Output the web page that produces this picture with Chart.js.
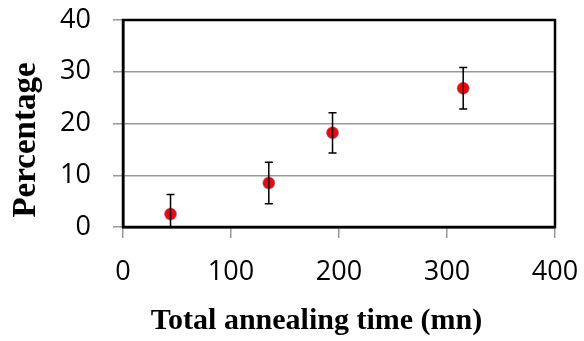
<!DOCTYPE html>
<html lang="en">

<head>
    <meta charset="UTF-8">
    <title>Percentage vs annealing time</title>
    <script src="https://cdn.jsdelivr.net/npm/chart.js@4.4.0/dist/chart.umd.min.js"></script>
    <style>
        html, body { margin: 0; padding: 0; background: #ffffff; }
        #box { width: 584px; height: 341px; }
    </style>
</head>

<body>
    <div id="box"><canvas id="canvas_grafico"></canvas></div>

<script>
    // dados
    var tempos = [44, 135, 194, 315];
    var porcentagens = [2.5, 8.5, 18.2, 26.8];
    var erros = [3.8, 4.0, 3.9, 4.0];
    var ticks_x = [0, 100, 200, 300, 400];
    var ticks_y = [0, 10, 20, 30, 40];

    var pontos = tempos.map(function (t, i) {
        return { x: t, y: porcentagens[i] };
    });

    // barras de erro desenhadas com as escalas do proprio grafico
    const barrasErro = {
        id: 'barrasErro',
        afterDatasetsDraw(chart) {
            const ctx = chart.ctx;
            const sx = chart.scales.x;
            const sy = chart.scales.y;
            const area = chart.chartArea;
            ctx.save();
            ctx.strokeStyle = '#000000';
            ctx.lineWidth = 1.5;
            for (let i = 0; i < tempos.length; i++) {
                const px = sx.getPixelForValue(tempos[i]);
                const topo = sy.getPixelForValue(porcentagens[i] + erros[i]);
                const base = Math.min(sy.getPixelForValue(porcentagens[i] - erros[i]), area.bottom);
                ctx.beginPath();
                ctx.moveTo(px, topo); ctx.lineTo(px, base);
                ctx.moveTo(px - 4, topo); ctx.lineTo(px + 4, topo);
                if (base < area.bottom) {
                    ctx.moveTo(px - 4, base); ctx.lineTo(px + 4, base);
                }
                ctx.stroke();
            }
            ctx.restore();
        }
    };

    // moldura preta em volta da area do grafico
    const moldura = {
        id: 'moldura',
        beforeDatasetsDraw(chart) {
            const a = chart.chartArea;
            const ctx = chart.ctx;
            ctx.save();
            ctx.strokeStyle = '#000000';
            ctx.lineWidth = 2.5;
            ctx.strokeRect(a.left, a.top, a.right - a.left, a.bottom - a.top);
            ctx.restore();
        }
    };

    const ctx = document.getElementById('canvas_grafico').getContext('2d');
    const myChart = new Chart(ctx, {
        type: 'scatter',
        data: {
            datasets: [{
                label: 'Percentage',
                data: pontos,
                backgroundColor: '#ff0000',
                borderColor: 'rgba(120, 110, 170, 0.6)',
                borderWidth: 1,
                pointRadius: 6,
                pointHoverRadius: 6
            }]
        },
        options: {
            responsive: true,
            maintainAspectRatio: false,
            animation: false,
            events: [],
            layout: { padding: { top: 20, right: 29, left: 0, bottom: 0 } },
            plugins: {
                legend: { display: false },
                tooltip: { enabled: false }
            },
            scales: {
                x: {
                    type: 'linear',
                    min: 0,
                    max: 400,
                    afterBuildTicks: function (s) { s.ticks = ticks_x.map(function (v) { return { value: v }; }); },
                    afterFit: function (s) {
                        s.height = 114;
                        s.paddingLeft = 0;
                        s.paddingRight = 0;
                    },
                    grid: { drawOnChartArea: false, color: '#999999', tickLength: 11, lineWidth: 1.5 },
                    border: { color: '#000000', width: 2.5 },
                    ticks: {
                        color: '#000000',
                        padding: 18,
                        maxRotation: 0,
                        font: { family: 'Open Sans', size: 27 }
                    },
                    title: {
                        display: true,
                        // espacos no fim deslocam o titulo como no original
                        text: 'Total annealing time (mn)      ',
                        color: '#000000',
                        padding: { top: 0, bottom: 2 },
                        font: { family: 'Liberation Serif', size: 30, weight: 'bold' }
                    }
                },
                y: {
                    min: 0,
                    max: 40,
                    afterBuildTicks: function (s) { s.ticks = ticks_y.map(function (v) { return { value: v }; }); },
                    afterFit: function (s) {
                        s.width = 123;
                        s.paddingTop = 0;
                        s.paddingBottom = 0;
                    },
                    grid: { color: '#999999', tickLength: 10, lineWidth: 1.5 },
                    border: { color: '#000000', width: 2.5 },
                    ticks: {
                        color: '#000000',
                        padding: 22,
                        font: { family: 'Open Sans', size: 27 }
                    },
                    title: {
                        display: true,
                        text: 'Percentage    ',
                        color: '#000000',
                        padding: { top: 7, bottom: 0 },
                        font: { family: 'Liberation Serif', size: 33, weight: 'bold' }
                    }
                }
            }
        },
        plugins: [moldura, barrasErro]
    });
</script>
</body>

</html>
